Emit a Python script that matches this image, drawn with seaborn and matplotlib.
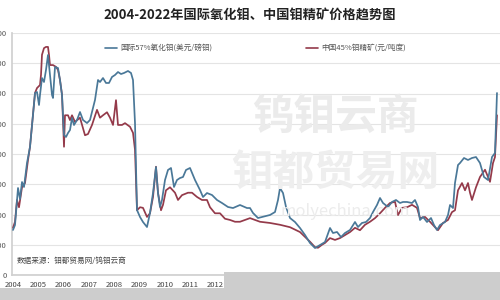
import numpy as np
import pandas as pd
import matplotlib
matplotlib.use("Agg")
import matplotlib.pyplot as plt
import seaborn as sns
from matplotlib.patches import Rectangle

# ---- data ----
# international 57% Mo oxide, USD/lb ; x in decimal years
intl_year = [2004.000, 2004.079, 2004.198, 2004.277, 2004.356, 2004.435, 2004.553, 2004.672, 2004.751, 2004.830,
             2004.870, 2004.949, 2005.028, 2005.067, 2005.146, 2005.225, 2005.304, 2005.383, 2005.462, 2005.542,
             2005.581, 2005.660, 2005.779, 2005.858, 2005.937, 2006.016, 2006.095, 2006.174, 2006.253, 2006.332,
             2006.411, 2006.530, 2006.648, 2006.767, 2006.925, 2007.043, 2007.162, 2007.241, 2007.360, 2007.439,
             2007.557, 2007.676, 2007.794, 2007.913, 2008.032, 2008.150, 2008.269, 2008.387, 2008.545, 2008.664,
             2008.743, 2008.822, 2008.901, 2009.020, 2009.138, 2009.296, 2009.415, 2009.534, 2009.652, 2009.731,
             2009.810, 2009.889, 2010.008, 2010.126, 2010.245, 2010.364, 2010.482, 2010.601, 2010.719, 2010.838,
             2010.996, 2011.194, 2011.391, 2011.510, 2011.668, 2011.866, 2012.063, 2012.261, 2012.498, 2012.696,
             2012.972, 2013.249, 2013.368, 2013.486, 2013.684, 2013.842, 2014.158, 2014.356, 2014.474, 2014.553,
             2014.672, 2014.791, 2014.949, 2015.146, 2015.344, 2015.542, 2015.739, 2015.937, 2016.134, 2016.332,
             2016.530, 2016.648, 2016.806, 2016.964, 2017.123, 2017.320, 2017.518, 2017.636, 2017.794, 2017.953,
             2018.111, 2018.229, 2018.387, 2018.506, 2018.625, 2018.822, 2018.980, 2019.138, 2019.296, 2019.415,
             2019.573, 2019.771, 2019.889, 2020.008, 2020.087, 2020.206, 2020.364, 2020.522, 2020.640, 2020.759,
             2020.877, 2021.075, 2021.194, 2021.273, 2021.391, 2021.470, 2021.589, 2021.668, 2021.826, 2021.984,
             2022.142, 2022.300, 2022.458, 2022.617, 2022.775, 2022.933, 2023.051, 2023.130]
intl_price = [7.44, 8.26, 14.38, 12.56, 15.37, 14.55, 18.51, 21.16, 24.79, 28.43,
              30.08, 30.25, 28.10, 29.75, 32.56, 31.90, 33.88, 36.36, 33.06, 29.75,
              29.26, 34.38, 34.21, 32.23, 29.75, 23.14, 22.81, 23.47, 23.97, 25.95,
              24.79, 25.62, 26.94, 25.62, 25.12, 25.62, 27.60, 28.93, 32.23, 31.90,
              32.56, 31.74, 31.74, 32.73, 33.06, 33.55, 33.22, 33.39, 33.72, 33.39,
              32.23, 25.12, 10.74, 9.59, 8.76, 7.93, 10.25, 13.55, 17.85, 13.55,
              11.24, 12.40, 15.70, 17.36, 17.69, 14.55, 15.70, 16.03, 16.20, 17.36,
              17.69, 15.70, 14.05, 12.89, 13.55, 13.22, 12.40, 11.90, 11.24, 11.07,
              11.57, 11.07, 11.07, 10.25, 9.42, 9.59, 9.92, 10.41, 12.40, 14.38,
              13.55, 11.24, 9.42, 8.76, 7.77, 6.61, 5.29, 4.46, 4.96, 5.45,
              7.77, 6.94, 7.11, 6.28, 6.94, 7.44, 8.76, 7.93, 8.60, 8.76,
              9.42, 10.41, 11.57, 12.73, 11.90, 11.24, 12.07, 12.40, 11.90, 12.07,
              12.07, 11.90, 12.40, 11.24, 9.09, 9.59, 8.76, 9.42, 8.26, 7.44,
              8.26, 8.76, 9.92, 11.57, 11.07, 15.21, 18.18, 18.51, 19.34, 19.01,
              19.34, 19.50, 18.51, 16.20, 15.70, 19.50, 20.17, 30.08]

# China 45% Mo concentrate, CNY per tonne-degree
cn_year = [2004.000, 2004.079, 2004.158, 2004.237, 2004.356, 2004.474, 2004.593, 2004.672, 2004.751, 2004.830,
           2004.870, 2004.949, 2005.067, 2005.107, 2005.146, 2005.225, 2005.304, 2005.383, 2005.423, 2005.462,
           2005.581, 2005.700, 2005.779, 2005.858, 2005.937, 2005.976, 2006.016, 2006.055, 2006.174, 2006.253,
           2006.332, 2006.451, 2006.648, 2006.846, 2006.964, 2007.123, 2007.320, 2007.439, 2007.557, 2007.715,
           2007.834, 2007.953, 2008.071, 2008.150, 2008.308, 2008.427, 2008.625, 2008.743, 2008.822, 2008.901,
           2009.020, 2009.138, 2009.296, 2009.415, 2009.534, 2009.652, 2009.731, 2009.850, 2009.929, 2010.047,
           2010.206, 2010.403, 2010.522, 2010.680, 2010.917, 2011.075, 2011.273, 2011.470, 2011.668, 2011.787,
           2011.984, 2012.182, 2012.379, 2012.577, 2012.775, 2012.972, 2013.170, 2013.368, 2013.565, 2013.763,
           2014.158, 2014.553, 2014.949, 2015.344, 2015.542, 2015.739, 2015.937, 2016.055, 2016.213, 2016.332,
           2016.530, 2016.727, 2016.925, 2017.123, 2017.320, 2017.518, 2017.715, 2017.913, 2018.111, 2018.308,
           2018.506, 2018.704, 2018.901, 2019.099, 2019.217, 2019.375, 2019.573, 2019.771, 2019.968, 2020.087,
           2020.285, 2020.482, 2020.680, 2020.798, 2020.996, 2021.194, 2021.352, 2021.470, 2021.589, 2021.747,
           2021.866, 2021.984, 2022.063, 2022.142, 2022.300, 2022.458, 2022.657, 2022.854, 2022.972, 2023.051,
           2023.130]
cn_price = [780, 880, 1240, 1120, 1450, 1520, 1900, 2120, 2480, 2840,
            3010, 3090, 3140, 3310, 3640, 3750, 3770, 3770, 3640, 3470,
            3470, 3440, 3390, 3220, 2980, 2560, 2120, 2640, 2640, 2560,
            2640, 2530, 2600, 2310, 2330, 2480, 2730, 2600, 2640, 2690,
            2600, 2480, 2890, 2480, 2480, 2510, 2450, 2350, 2070, 1070,
            1120, 1110, 960, 1020, 1290, 1790, 1360, 1070, 1160, 1400,
            1450, 1360, 1240, 1320, 1360, 1360, 1290, 1240, 1240, 1120,
            1020, 1020, 930, 910, 880, 880, 910, 940, 910, 880,
            860, 830, 790, 710, 630, 550, 460, 450, 500, 530,
            610, 580, 610, 660, 710, 780, 740, 830, 880, 940,
            1020, 1110, 1190, 1210, 990, 1110, 1120, 1160, 1110, 940,
            960, 880, 790, 740, 860, 910, 1040, 1070, 1400, 1520,
            1400, 1520, 1360, 1240, 1450, 1620, 1740, 1540, 1850, 1950,
            2640]

# ---- figure ----
sns.set_theme(style="white")
plt.rcParams["font.family"] = ["Noto Sans CJK SC", "DejaVu Sans"]

W, H = 500, 300
fig = plt.figure(figsize=(5, 3), dpi=100)
fig.patch.set_facecolor("white")

def fx(px):
    return px / W

def fy(py):
    return 1 - py / H

ax = fig.add_axes([fx(12), fy(275), fx(500) - fx(12), fy(33) - fy(275)])
ax2 = ax.twinx()

grid_c = "#e4e4e4"
blue = "#4a7898"
red = "#943a4a"

df_cn = pd.DataFrame({"year": cn_year, "price": cn_price})
df_in = pd.DataFrame({"year": intl_year, "price": intl_price})

sns.lineplot(data=df_cn, x="year", y="price", ax=ax, color=red, lw=1.25,
             estimator=None, sort=False, zorder=3)
sns.lineplot(data=df_in, x="year", y="price", ax=ax2, color=blue, lw=1.25,
             estimator=None, sort=False, zorder=4)

x0 = 2004 - 1 / 25.3
x1 = 2004 + (500 - 13) / 25.3
ax.set_xlim(x0, x1)
ax.set_ylim(0, 4000)
ax2.set_ylim(0, 40)
ax.set_yticks(np.arange(0, 4001, 500))
ax.set_yticklabels(["{:d}".format(v) for v in np.arange(0, 4001, 500)],
                   fontsize=5.5, color="#555555")
ax2.set_yticks([])
years = list(range(2004, 2023))
ax.set_xticks(years)
ax.set_xticklabels([str(y) for y in years], fontsize=5.5, color="#444444")
ax.tick_params(axis="x", length=2, width=0.6, color="#bbbbbb", pad=2)
ax.tick_params(axis="y", length=0, pad=4)
ax.set_xlabel("")
ax.set_ylabel("")
ax2.set_ylabel("")
ax.grid(axis="y", color=grid_c, lw=0.8)
ax.grid(axis="x", visible=False)
for a in (ax, ax2):
    for s in ("top", "right"):
        a.spines[s].set_visible(False)
    a.spines["left"].set_color("#d0d0d0")
    a.spines["bottom"].set_color("#d0d0d0")
    a.patch.set_alpha(0)
ax2.spines["left"].set_visible(False)
ax2.spines["bottom"].set_visible(False)

# watermark
fig.text(fx(335), fy(117), "钨钼云商", fontsize=30, color="#ebebeb", ha="center",
         va="center", fontweight="bold", zorder=0)
fig.text(fx(335), fy(173), "钼都贸易网", fontsize=30, color="#eeeeee", ha="center",
         va="center", fontweight="bold", zorder=0)
fig.text(fx(345), fy(212), "molyechina.com", fontsize=12, color="#ececec", ha="center",
         va="center", zorder=0)

# title
fig.text(0.5, fy(16), "2004-2022年国际氧化钼、中国钼精矿价格趋势图", ha="center", va="center",
         fontsize=9.5, fontweight="bold", color="#222222")

# legend
fig.lines.append(plt.Line2D([fx(105), fx(117)], [fy(48), fy(48)], color=blue, lw=1.2,
                            transform=fig.transFigure))
fig.text(fx(120), fy(48), "国际57%氧化钼(美元/磅钼)", fontsize=5.5, color="#555555",
         va="center", ha="left")
fig.lines.append(plt.Line2D([fx(306), fx(318)], [fy(48), fy(48)], color=red, lw=1.2,
                            transform=fig.transFigure))
fig.text(fx(321), fy(48), "中国45%钼精矿(元/吨度)", fontsize=5.5, color="#555555",
         va="center", ha="left")

# source
fig.text(fx(17), fy(261), "数据来源：钼都贸易网/钨钼云商", fontsize=5.5, color="#444444",
         va="center", ha="left")

# grey band at the bottom (image artefact in reference)
fig.patches.append(Rectangle((0, 0), 1, fy(288), transform=fig.transFigure,
                             facecolor="#cdcdcd", edgecolor="none", zorder=10))
fig.patches.append(Rectangle((fx(224), 0), 1, fy(272), transform=fig.transFigure,
                             facecolor="#cdcdcd", edgecolor="none", zorder=10))

fig.savefig("out.png", dpi=100)
